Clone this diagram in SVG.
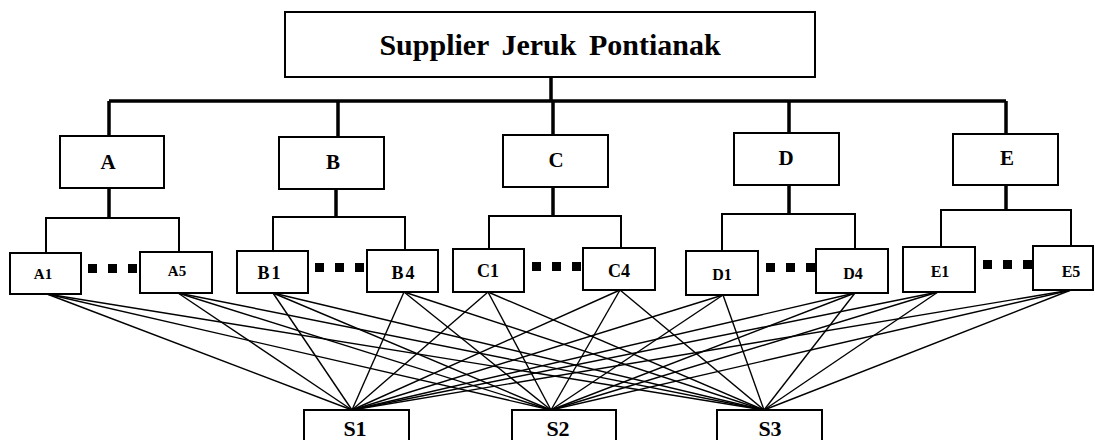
<svg xmlns="http://www.w3.org/2000/svg" width="1095" height="440" viewBox="0 0 1095 440">
<style>
.box{fill:#fff;stroke:#000;stroke-width:2}
.t{font-family:'Liberation Serif','DejaVu Serif',serif;font-weight:700;fill:#000;text-anchor:middle}
.bus{fill:none;stroke:#000;stroke-width:3.5}
.sub{fill:none;stroke:#000;stroke-width:2}
.ln{stroke:#000;stroke-width:1.4}
.dot{fill:#000}
</style>
<rect width="1095" height="440" fill="#fff"/>
<g id="connectors">
<path class="bus" d="M551 77V101M109 101H1006M109 101V136M338 101V137M553 101V135M789 101V133M1006 101V134"/>
<path class="bus" d="M109 188V218M336 189V217M553 187V216M789 185V214M1006 185V210"/>
<path class="sub" d="M46 253V218H179V252M273 251V217H405V250M489 249V216H621V248M722 251V214H855V249M941 247V210H1071V247"/>
<g class="ln">
<line x1="47" y1="294" x2="352" y2="410"/><line x1="47" y1="294" x2="551" y2="410"/><line x1="47" y1="294" x2="764" y2="410"/>
<line x1="178" y1="293" x2="352" y2="410"/><line x1="178" y1="293" x2="551" y2="410"/><line x1="178" y1="293" x2="764" y2="410"/>
<line x1="273" y1="293" x2="352" y2="410"/><line x1="273" y1="293" x2="551" y2="410"/><line x1="273" y1="293" x2="764" y2="410"/>
<line x1="404" y1="292" x2="352" y2="410"/><line x1="404" y1="292" x2="551" y2="410"/><line x1="404" y1="292" x2="764" y2="410"/>
<line x1="488" y1="292" x2="352" y2="410"/><line x1="488" y1="292" x2="551" y2="410"/><line x1="488" y1="292" x2="764" y2="410"/>
<line x1="620" y1="290" x2="352" y2="410"/><line x1="620" y1="290" x2="551" y2="410"/><line x1="620" y1="290" x2="764" y2="410"/>
<line x1="723" y1="295" x2="352" y2="410"/><line x1="723" y1="295" x2="551" y2="410"/><line x1="723" y1="295" x2="764" y2="410"/>
<line x1="855" y1="293" x2="352" y2="410"/><line x1="855" y1="293" x2="551" y2="410"/><line x1="855" y1="293" x2="764" y2="410"/>
<line x1="938" y1="292" x2="352" y2="410"/><line x1="938" y1="292" x2="551" y2="410"/><line x1="938" y1="292" x2="764" y2="410"/>
<line x1="1071" y1="290" x2="352" y2="410"/><line x1="1071" y1="290" x2="551" y2="410"/><line x1="1071" y1="290" x2="764" y2="410"/>
</g>
</g>
<g id="top"><rect class="box" x="285" y="12" width="530" height="65"/><text class="t" x="550" y="55" font-size="30" word-spacing="5">Supplier Jeruk Pontianak</text></g>
<g id="A"><rect class="box" x="60" y="136" width="104" height="52"/><text class="t" x="108" y="169" font-size="21">A</text></g>
<g id="B"><rect class="box" x="279" y="137" width="105" height="52"/><text class="t" x="333" y="169" font-size="21">B</text></g>
<g id="C"><rect class="box" x="503" y="135" width="105" height="52"/><text class="t" x="556" y="167" font-size="21">C</text></g>
<g id="D"><rect class="box" x="734" y="133" width="105" height="52"/><text class="t" x="786" y="165" font-size="21">D</text></g>
<g id="E"><rect class="box" x="953" y="134" width="105" height="51"/><text class="t" x="1007" y="165" font-size="21">E</text></g>
<g id="A1"><rect class="box" x="10" y="253" width="71" height="41"/><text class="t" x="43" y="279" font-size="15">A1</text></g>
<g id="A5"><rect class="box" x="140" y="252" width="72" height="41"/><text class="t" x="177" y="276" font-size="15">A5</text></g>
<g id="B1"><rect class="box" x="237" y="251" width="71" height="42"/><text class="t" x="270" y="279" font-size="18" letter-spacing="2">B1</text></g>
<g id="B4"><rect class="box" x="367" y="250" width="71" height="42"/><text class="t" x="404" y="279" font-size="18" letter-spacing="2">B4</text></g>
<g id="C1"><rect class="box" x="453" y="249" width="71" height="43"/><text class="t" x="488" y="277" font-size="18">C1</text></g>
<g id="C4"><rect class="box" x="583" y="248" width="72" height="42"/><text class="t" x="619" y="277" font-size="18">C4</text></g>
<g id="D1"><rect class="box" x="686" y="251" width="72" height="44"/><text class="t" x="722" y="280" font-size="16">D1</text></g>
<g id="D4"><rect class="box" x="816" y="249" width="72" height="44"/><text class="t" x="853" y="279" font-size="16">D4</text></g>
<g id="E1"><rect class="box" x="903" y="247" width="72" height="45"/><text class="t" x="940" y="277" font-size="16">E1</text></g>
<g id="E5"><rect class="box" x="1033" y="246" width="60" height="44"/><text class="t" x="1071" y="277" font-size="16">E5</text></g>
<g id="dots">
<rect class="dot" x="88" y="264" width="9" height="9"/><rect class="dot" x="108" y="264" width="9" height="9"/><rect class="dot" x="128" y="264" width="9" height="9"/>
<rect class="dot" x="315" y="263" width="9" height="9"/><rect class="dot" x="335" y="263" width="9" height="9"/><rect class="dot" x="355" y="263" width="9" height="9"/>
<rect class="dot" x="532" y="262" width="9" height="9"/><rect class="dot" x="552" y="262" width="9" height="9"/><rect class="dot" x="572" y="262" width="9" height="9"/>
<rect class="dot" x="766" y="263" width="9" height="9"/><rect class="dot" x="786" y="263" width="9" height="9"/><rect class="dot" x="806" y="263" width="9" height="9"/>
<rect class="dot" x="983" y="260" width="9" height="9"/><rect class="dot" x="1003" y="260" width="9" height="9"/><rect class="dot" x="1023" y="260" width="9" height="9"/>
</g>
<g id="S1"><rect class="box" x="304" y="410" width="105" height="32"/><text class="t" x="355" y="436" font-size="22">S1</text></g>
<g id="S2"><rect class="box" x="512" y="410" width="104" height="32"/><text class="t" x="558" y="436" font-size="22">S2</text></g>
<g id="S3"><rect class="box" x="717" y="410" width="105" height="32"/><text class="t" x="770" y="436" font-size="22">S3</text></g>
</svg>
